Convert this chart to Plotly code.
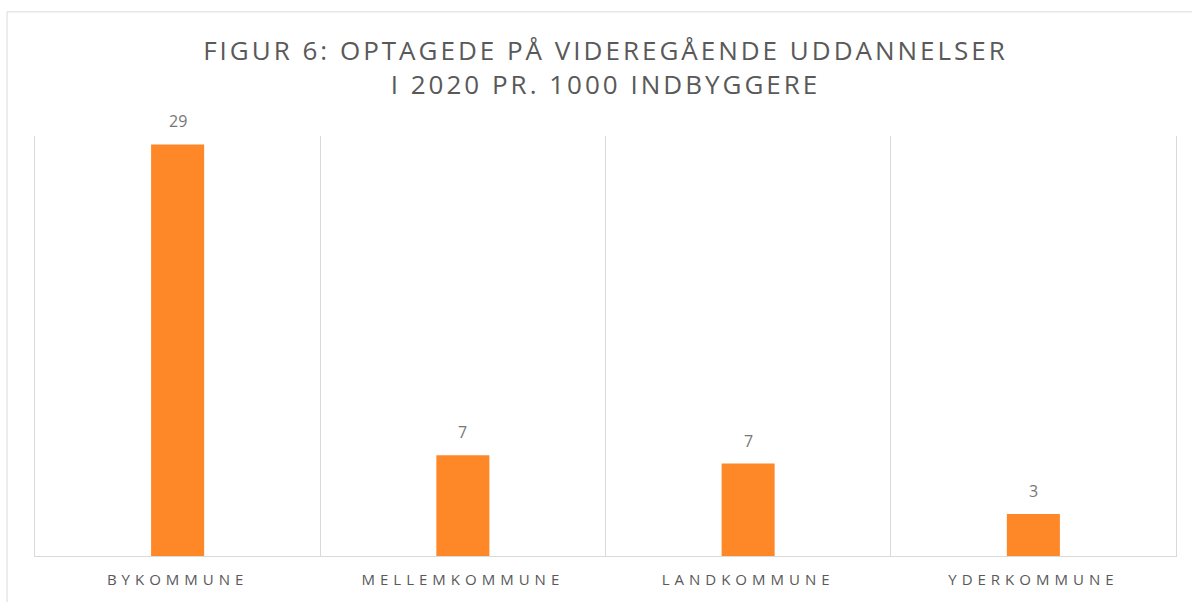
import plotly.graph_objects as go

categories = ["BYKOMMUNE", "MELLEMKOMMUNE", "LANDKOMMUNE", "YDERKOMMUNE"]
values = [29.4, 7.2, 6.6, 3.0]
labels = [str(int(v + 0.5)) for v in values]
title_text = "FIGUR 6: OPTAGEDE PÅ VIDEREGÅENDE UDDANNELSER<br>I 2020 PR. 1000 INDBYGGERE"

FONT = "Open Sans"
BAR = "#FE8828"
GRID = "#D9D9D9"

fig = go.Figure()
fig.add_trace(go.Bar(x=categories, y=values, marker=dict(color=BAR, line=dict(width=0)),
                     width=0.186, hoverinfo="x+y"))

for c, v, t in zip(categories, values, labels):
    fig.add_annotation(x=c, y=v, text=t, showarrow=False, yanchor="bottom", yshift=10,
                       font=dict(family=FONT, size=16, color="#767676"))

# outer chart border
fig.add_shape(type="rect", xref="paper", yref="paper",
              x0=-0.0245, x1=1.03, y0=-0.2, y1=1.2956,
              line=dict(color=GRID, width=1), fillcolor="rgba(0,0,0,0)", layer="below")

fig.update_layout(
    width=1192, height=602,
    margin=dict(l=35, r=16, t=136, b=46),
    paper_bgcolor="white", plot_bgcolor="white",
    showlegend=False,
    title=dict(text=title_text, x=0.5, xref="paper", xanchor="center",
               y=1 - 60 / 602, yref="container", yanchor="middle",
               font=dict(family=FONT, size=26, color="#595959")),
    xaxis=dict(type="category", tickson="boundaries", showgrid=True, gridcolor=GRID, gridwidth=1,
               showline=True, linecolor=GRID, linewidth=1, ticks="", ticklabelstandoff=10,
               tickfont=dict(family=FONT, size=15, color="#595959"), fixedrange=True),
    yaxis=dict(range=[0, 30], showgrid=False, zeroline=False, showticklabels=False,
               showline=True, mirror=True, linecolor=GRID, linewidth=1,
               ticks="", fixedrange=True),
)

post = """
document.body.style.margin='0';
var s=document.createElement('style');
s.innerHTML='.gtitle{letter-spacing:3px}.xtick text{letter-spacing:5px}';
document.head.appendChild(s);
"""
fig.write_html("out.html", post_script=post, config={"displayModeBar": False})
